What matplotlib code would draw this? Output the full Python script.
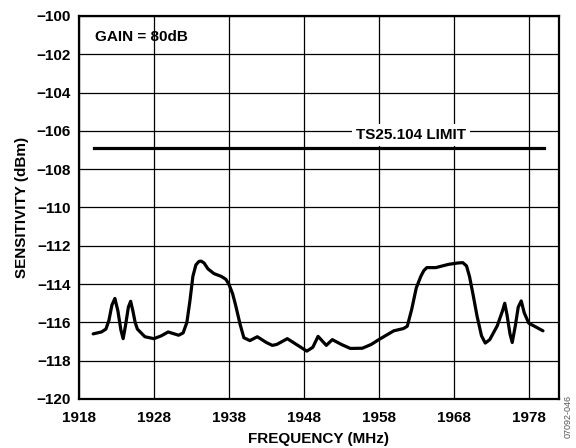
#!/usr/bin/env python
# coding:utf-8
"""plot.py - sensitivity vs frequency"""

import matplotlib
matplotlib.use('Agg')
import matplotlib.pyplot as plt

plt.rcParams['font.family'] = ['Liberation Sans', 'DejaVu Sans']
plt.rcParams['font.weight'] = 'bold'

# values
freq = [1919.9, 1921.0, 1921.6, 1922.0, 1922.4, 1922.8, 1923.2, 1923.6, 1923.9,
        1924.2, 1924.6, 1924.9, 1925.2, 1925.5, 1925.8, 1926.8, 1928.0, 1929.0,
        1929.9, 1931.3, 1931.9, 1932.4, 1932.8, 1933.2, 1933.6, 1934.0, 1934.3,
        1934.7, 1935.2, 1936.0, 1937.0, 1937.6, 1938.0, 1938.5, 1938.9, 1939.5,
        1940.0, 1940.8, 1941.8, 1943.0, 1943.8, 1944.4, 1945.8, 1947.2, 1948.4,
        1949.2, 1949.9, 1951.0, 1951.8, 1953.0, 1954.2, 1955.8, 1957.0, 1958.0,
        1960.0, 1961.3, 1961.8, 1962.4, 1963.0, 1963.6, 1964.0, 1964.4, 1965.6,
        1967.3, 1968.5, 1969.2, 1969.7, 1970.1, 1970.6, 1971.1, 1971.7, 1972.2,
        1972.8, 1973.8, 1974.5, 1974.8, 1975.1, 1975.5, 1975.8, 1976.2, 1976.6,
        1977.0, 1977.4, 1978.0, 1979.9]
sens = [-116.6, -116.5, -116.35, -115.9, -115.1, -114.75, -115.4, -116.4, -116.85,
        -116.2, -115.2, -114.9, -115.4, -116.0, -116.35, -116.75, -116.85, -116.7,
        -116.5, -116.67, -116.55, -116.0, -114.9, -113.6, -113.0, -112.82, -112.8,
        -112.9, -113.2, -113.45, -113.6, -113.75, -114.0, -114.5, -115.1, -116.1,
        -116.8, -116.95, -116.75, -117.05, -117.2, -117.15, -116.85, -117.2, -117.5,
        -117.3, -116.73, -117.2, -116.9, -117.15, -117.36, -117.35, -117.15, -116.9,
        -116.44, -116.32, -116.2, -115.3, -114.2, -113.6, -113.3, -113.14, -113.14,
        -112.97, -112.9, -112.88, -113.05, -113.6, -114.6, -115.66, -116.7, -117.08,
        -116.9, -116.18, -115.4, -115.0, -115.6, -116.6, -117.05, -116.2, -115.2,
        -114.88, -115.5, -116.04, -116.44]

limit_freq = [1920, 1980]
limit_sens = [-106.9, -106.9]

xticks = [1918, 1928, 1938, 1948, 1958, 1968, 1978]
yticks = list(range(-120, -99, 2))


def main():
  fig = plt.figure(figsize=(5.76, 4.48), dpi=100)
  ax = fig.add_axes([0.137, 0.1094, 0.833, 0.8549])
  ax.plot(freq, sens, color='black', linewidth=2.3, solid_joinstyle='round',
          solid_capstyle='round', zorder=3)
  ax.plot(limit_freq, limit_sens, color='black', linewidth=2.3, zorder=3)
  ax.set_xlim(1918, 1982)
  ax.set_ylim(-120, -100)
  ax.set_xticks(xticks)
  ax.set_yticks(yticks)
  ax.set_yticklabels(['\u2212%d' % abs(v) for v in yticks])
  ax.grid(True, color='black', linewidth=0.9)
  ax.set_axisbelow(True)
  ax.tick_params(axis='x', length=0, labelsize=11, pad=9)
  ax.tick_params(axis='y', length=0, labelsize=11, pad=6)
  for sp in ax.spines.values():
    sp.set_linewidth(1.6)
  ax.set_xlabel('FREQUENCY (MHz)', fontsize=11, fontweight='bold', labelpad=5)
  ax.set_ylabel('SENSITIVITY (dBm)', fontsize=11, fontweight='bold', labelpad=5)
  ax.text(1920.1, -101.1, 'GAIN = 80dB', fontsize=11, fontweight='bold',
          va='center', ha='left', zorder=4)
  ax.text(1962.3, -106.2, 'TS25.104 LIMIT', fontsize=11, fontweight='bold',
          va='center', ha='center', zorder=4,
          bbox=dict(facecolor='white', edgecolor='none', pad=3))
  fig.text(0.986, 0.07, '07092-046', rotation=90, fontsize=6.5, color='#555555',
           fontweight='normal', ha='center', va='center')
  fig.savefig('out.png', dpi=100)
  plt.close(fig)


if __name__ == '__main__':
  main()
